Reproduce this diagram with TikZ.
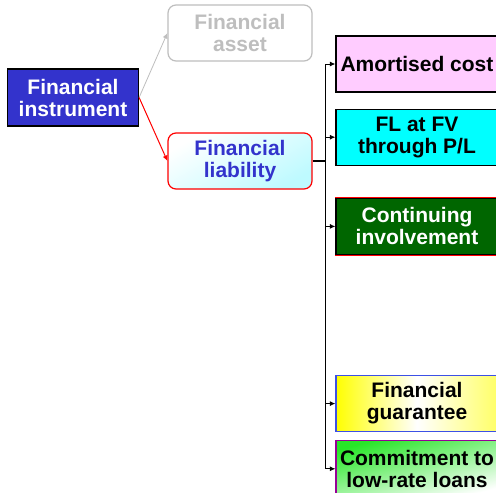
\documentclass[tikz,border=0pt]{standalone}
\usepackage{fontspec}
\setmainfont{Liberation Sans}
\usepackage{xcolor}
\usetikzlibrary{positioning,arrows.meta,calc}
\definecolor{instblue}{RGB}{51,51,204}
\definecolor{assetgray}{RGB}{190,190,190}
\definecolor{liacyan}{RGB}{190,250,255}
\definecolor{amopink}{RGB}{255,204,255}
\definecolor{fvcyan}{RGB}{0,255,255}
\definecolor{cigreen}{RGB}{0,102,0}
\definecolor{fgblue}{RGB}{60,80,230}
\definecolor{cmpurple}{RGB}{150,0,150}
\definecolor{cmgreen}{RGB}{40,230,40}

\begin{document}
\begin{tikzpicture}[x=1pt, y=-1pt, font=\fontsize{21}{22}\selectfont\bfseries, every node/.style={align=center},
  box/.style={draw, line width=1.2pt, minimum width=162pt, minimum height=56pt, inner sep=0pt},
  rbox/.style={box, rounded corners=8pt, minimum width=144pt},
  arr/.style={-{Latex[length=5.5pt,width=5pt]}, line width=1pt}]
\fill[white] (0,0) rectangle (496,493);
\useasboundingbox (0,0) rectangle (496,493);
\clip (0,0) rectangle (496,493);
\node[box, fill=instblue, text=white, minimum width=131pt, minimum height=57pt] (fi) at (73,97.5) {Financial\\instrument};
\node[rbox, draw=assetgray, text=assetgray, fill=white] (fa) at (240,33) {Financial\\asset};
\node[rbox, draw=red, text=instblue, top color=white, bottom color=liacyan, shading angle=30] (fl) at (240,161) {Financial\\liability};
\draw[arr, assetgray, line width=0.8pt] (fi.east) -- (fa.west);
\draw[arr, red] (fi.east) -- (fl.west);
% measurement categories
\node[box, fill=amopink] (ac) at (417,64) {Amortised cost};
\node[box, fill=fvcyan, below=16pt of ac] (fv) {FL at FV\\through P/L};
\node[box, preaction={draw=red, line width=2.6pt}, fill=cigreen, text=white, below=32pt of fv] (ci) {Continuing\\involvement};
\node[box, draw=fgblue, left color=yellow, right color=yellow!60, middle color=white, below=120pt of ci] (fg) {Financial\\guarantee};
\node[box, draw=cmpurple, top color=cmgreen, bottom color=white, shading angle=15, below=8pt of fg] (cm) {Commitment to\\low-rate loans};
\draw[line width=1.6pt] (fl.east) -- ++(13,0) coordinate (tk);
\draw[line width=1.6pt] (tk |- ac.west) -- (tk |- cm.west);
\foreach \n in {ac,fv,ci,fg,cm}
  \draw[arr] (tk |- \n.west) -- (\n.west);
\end{tikzpicture}
\end{document}
